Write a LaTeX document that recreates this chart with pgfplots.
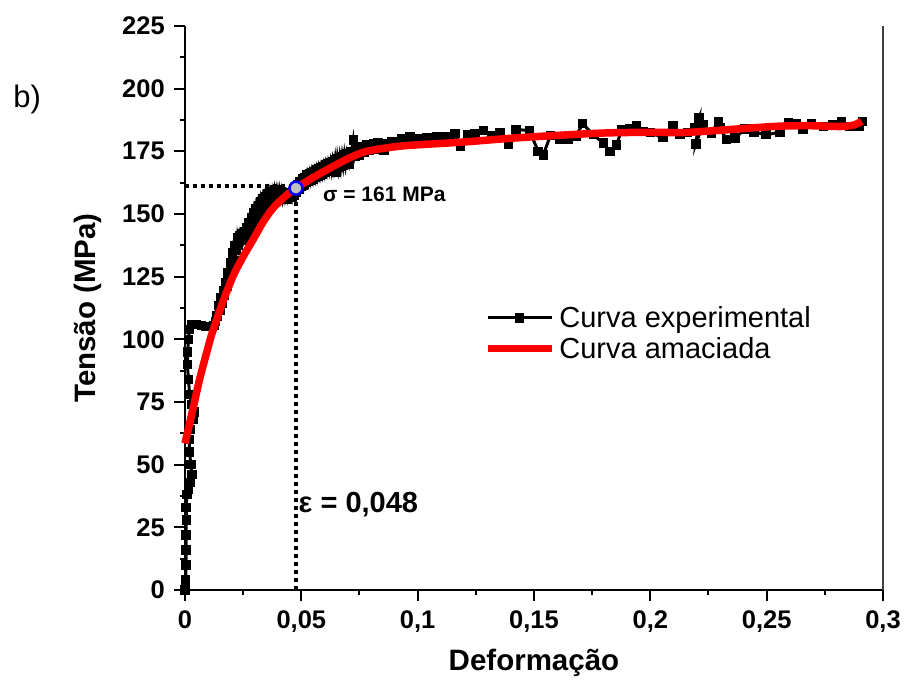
\documentclass[border=0pt]{standalone}
\usepackage{pgfplots}
\pgfplotsset{compat=1.18}
\usepackage{fontspec}
\setmainfont{Liberation Sans}
\begin{document}
\begin{tikzpicture}
\path (-185pt,-92pt) rectangle (721pt,590pt);
\begin{axis}[
  scale only axis, width=698pt, height=564pt,
  xmin=0, xmax=0.3, ymin=0, ymax=225,
  clip=false, clip marker paths=true,
  axis x line*=bottom, axis y line*=left,
  axis line style={line width=2pt, black},
  tick align=outside,
  major tick length=11pt, minor tick length=5pt,
  tick style={line width=2pt, black},
  minor x tick num=1, minor y tick num=1,
  xtick={0,0.05,0.1,0.15,0.2,0.25,0.3},
  xticklabels={0,{0,05},{0,1},{0,15},{0,2},{0,25},{0,3}},
  ytick={0,25,50,75,100,125,150,175,200,225},
  yticklabels={0,25,50,75,100,125,150,175,200,225},
  ticklabel style={font=\bfseries\fontsize{25.5}{27}\selectfont},
  yticklabel style={inner sep=2pt, xshift=-7pt},
  xticklabel style={inner sep=2pt, yshift=-7pt},
  xlabel={Deformação}, ylabel={Tensão (MPa)},
  label style={font=\bfseries\fontsize{29.5}{31}\selectfont},
  xlabel style={at={(axis description cs:0.5,-0.129)}, anchor=center},
  ylabel style={at={(axis description cs:-0.139,0.5)}, anchor=center},
  legend style={draw=none, fill=none, at={(axis description cs:0.428,0.51)}, anchor=north west,
    font=\fontsize{29}{33}\selectfont, inner sep=0pt, row sep=0pt,
    nodes={inner sep=4pt}},
  legend cell align=left,
  legend image code/.code={\draw[mark repeat=2,mark phase=2,#1] plot coordinates {(0pt,0pt) (32pt,0pt) (64pt,0pt)};},
]
\addplot[black, line width=3pt, mark=square*, mark size=3.2pt, mark options={solid}] coordinates {
(0,0)(0.0003,4)(0.0004,10)(0.0005,16)(0.0004,22)(0.0006,28)(0.0005,33)(0.0008,38)(0.0015,40)(0.0022,43)(0.003,46)(0.0025,50)(0.002,55)(0.0018,60)(0.0022,64)(0.0035,68)(0.0042,71)(0.003,74)(0.002,78)(0.0015,84)(0.001,90)(0.0012,95)(0.0015,100)(0.0018,104)(0.003,106)(0.005,106)(0.007,105.5)(0.009,105)(0.011,105)(0.0125,105.5)
(0.013,107)(0.0135,109.5)(0.014,109)(0.0145,113.5)(0.015,111.5)(0.0155,116.5)(0.016,114.5)(0.0165,119.5)(0.017,117.5)(0.0175,122.5)(0.018,121)(0.0185,126.5)(0.019,124)(0.0195,130.5)(0.020,128.5)(0.0205,134.5)(0.021,131.5)(0.0215,137.5)(0.022,135.5)(0.0225,140.5)(0.023,137.5)(0.0235,141.5)(0.024,139.5)(0.0245,142)(0.025,140)(0.0255,143)(0.026,141)(0.0265,144.5)(0.027,142)(0.0275,146.5)(0.028,144)(0.0285,148.5)(0.029,145.5)(0.0295,150.5)(0.030,147.5)(0.0305,152)(0.031,149)(0.0315,153.5)(0.032,150.5)(0.0325,155)(0.033,152)(0.0335,156)(0.034,153.5)(0.0345,157)(0.035,154.5)(0.0355,158)(0.036,155.5)(0.0365,158.5)(0.037,156)(0.0375,159)(0.038,156.5)(0.0385,159.5)(0.039,156.5)(0.0395,159.5)(0.040,156.5)(0.0405,159.5)(0.041,156.5)(0.0415,159)(0.042,156)(0.0425,158.5)(0.043,156)(0.0435,158)(0.044,156)(0.0445,158)(0.045,156.5)(0.0455,158.5)(0.046,156.5)(0.0465,159)(0.047,157.5)(0.0475,160)(0.048,158.5)(0.0485,161.5)(0.049,160)(0.0495,163)(0.050,161)(0.0505,164)(0.051,161.5)(0.0515,164.5)(0.052,162.5)(0.0525,165.5)(0.053,163)(0.0535,166)(0.054,163.5)(0.0545,166.5)(0.055,164)(0.0555,167)(0.056,164.5)(0.0565,167.5)(0.057,165)(0.0575,168)(0.058,165.5)(0.0585,168.5)(0.059,166)(0.0595,169)(0.060,166.5)(0.0605,169.5)(0.061,167)(0.0615,170)(0.062,167.5)(0.0625,170.5)(0.063,167.5)(0.0635,171)(0.064,168)(0.0645,171.5)(0.065,166.5)(0.0655,172)(0.066,168.5)(0.0665,172.5)(0.067,169)(0.0675,173)(0.068,169.5)(0.0685,173.5)(0.069,170)(0.0695,174)(0.0705,170)(0.0715,175)(0.0723,179.5)(0.073,173)(0.074,176)(0.075,173.5)(0.076,177)(0.077,174.5)(0.078,177.5)(0.079,175.5)(0.080,176.5)(0.081,178)(0.082,176)(0.083,178.5)(0.0845,177.5)(0.0855,175.5)(0.087,178)(0.089,179)(0.091,178)(0.093,180)(0.095,179)(0.0967,181)(0.098,179.5)(0.100,180)(0.102,179)(0.104,180.5)(0.106,180)(0.108,181)(0.110,180.5)(0.112,181)(0.114,181)(0.116,182)(0.1185,177)(0.1213,181.6)(0.1246,182)(0.1282,183.2)(0.1318,181.2)(0.1354,182.3)(0.139,178)(0.1422,183.6)(0.148,183.4)(0.1518,175)(0.154,173.6)(0.157,181.2)(0.161,179.6)(0.1647,179.6)(0.168,181)(0.1709,186)(0.1755,181.6)(0.1798,178.3)(0.1826,175)(0.1855,177.6)(0.1877,183.6)(0.1912,184)(0.194,185.2)(0.197,183)(0.200,182.5)(0.2054,180.4)(0.2097,185.2)(0.2127,181.6)(0.2160,182.5)(0.2192,184.3)(0.2209,188.3)(0.2196,178)(0.2226,185.6)(0.2263,182.3)(0.2292,187)(0.2299,184.3)(0.2328,179.6)(0.2364,180.3)(0.2407,183.9)(0.2445,182.7)(0.2497,181.6)(0.2557,182.6)(0.2593,186.6)(0.2629,186)(0.2657,183.9)(0.2693,186)(0.2743,185)(0.2783,185.6)(0.2822,187)(0.2858,185)(0.2898,185)(0.2912,187)
};
\addlegendentry{Curva experimental}
\addplot[black, line width=4pt, dash pattern=on 4pt off 4pt, forget plot] coordinates {(0,161.3)(0.0477,161.3)};
\addplot[black, line width=4pt, dash pattern=on 4pt off 4pt, forget plot] coordinates {(0.0477,0)(0.0477,161.3)};
\addplot[red, line width=7.5pt, smooth, no marks] coordinates {
(0,58.5)(0.0036,73)(0.0064,84.5)(0.0107,99.5)(0.0122,104)(0.0165,115.5)(0.0208,125.5)(0.025,133)(0.0294,140)(0.0337,147)(0.038,152.5)(0.043,157)(0.0477,160.3)(0.055,164.5)(0.0637,169)(0.071,172.5)(0.0781,175)(0.09,176.8)(0.1,177.6)(0.118,178.6)(0.14,180.2)(0.157,181.2)(0.18,182.3)(0.2,182.6)(0.214,182.5)(0.23,183.4)(0.243,184.3)(0.257,185.1)(0.27,185.2)(0.2815,184.9)(0.2875,185.5)(0.2908,187)
};
\addlegendentry{Curva amaciada}
\addplot[forget plot, only marks, mark=*, mark size=6.5pt, mark options={fill=black!25, draw=blue, line width=2.5pt}] coordinates {(0.0477,160.3)};
\node[anchor=west, font=\bfseries\fontsize{21}{23}\selectfont, inner sep=0pt] at (axis cs:0.0593,157.7) {σ = 161 MPa};
\node[anchor=west, font=\bfseries\fontsize{29}{31}\selectfont, inner sep=0pt] at (axis cs:0.0488,34) {ε = 0,048};
\node[anchor=center, font=\fontsize{31}{33}\selectfont] at (rel axis cs:-0.226,0.869) {b)};
\draw[line width=1.8pt, black!75] (rel axis cs:1,0) -- (rel axis cs:1,1);
\end{axis}
\end{tikzpicture}
\end{document}
